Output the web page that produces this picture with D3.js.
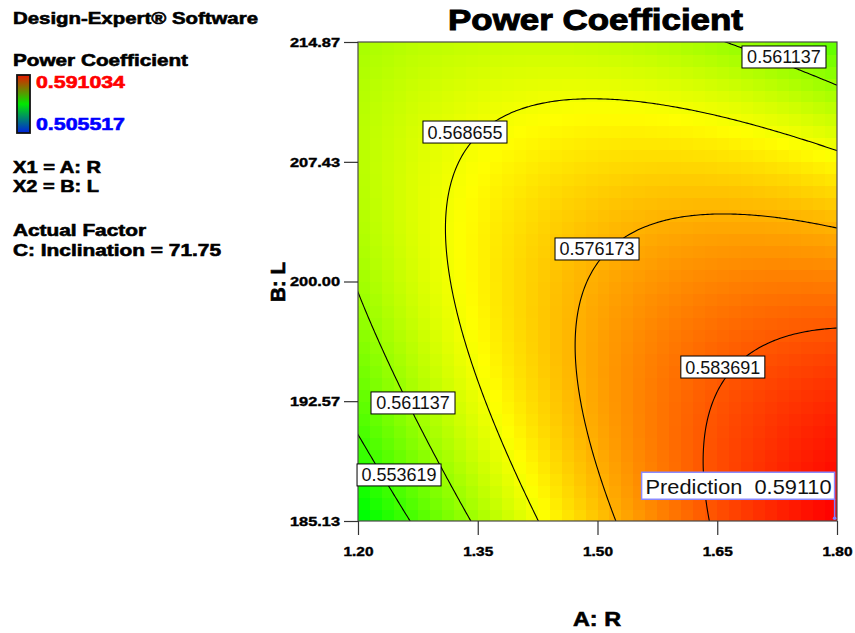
<!DOCTYPE html>
<html>
<head>
<meta charset="utf-8">
<script src="https://cdn.jsdelivr.net/npm/d3@7"></script>
<style>
  body { margin: 0; background: #fff; }
  text { font-family: "Liberation Sans", Arial, sans-serif; }
  .heavy { font-weight: bold; stroke: #000; stroke-width: 0.6px; }
</style>
</head>
<body>
<div id="chart"></div>
<script>
// factor ranges and tick labels
var rangeR = [1.20, 1.80];
var rangeL = [185.13, 214.87];
var ticksR = [1.20, 1.35, 1.50, 1.65, 1.80];
var ticksL = [185.13, 192.57, 200.00, 207.43, 214.87];

// response surface (coded units), terms: 1, A, B, AB, A^2, B^2
var modelTerms = ["1", "A", "B", "AB", "A2", "B2"];
var modelCoefs = [0.5766, 0.0095, -0.0050, -0.0128, -0.0056, -0.0071];

// colour legend range and contour levels
var colorRange = [0.505517, 0.591034];
var contourLevels = [0.553619, 0.561137, 0.568655, 0.576173, 0.583691];

// contour label anchors (in factor units)
var labelLevel = [0.553619, 0.561137, 0.561137, 0.568655, 0.576173, 0.583691];
var labelR = [1.2514, 1.2689, 1.7336, 1.334, 1.4994, 1.657];
var labelL = [187.99, 192.46, 213.94, 209.28, 202.02, 194.69];

// flagged prediction point
var predR = 1.797, predL = 185.3, predValue = 0.59110;

var W = 855, H = 633;
var svg = d3.select("#chart").append("svg").attr("width", W).attr("height", H);

var x = d3.scaleLinear().domain(rangeR).range([358, 837]);
var y = d3.scaleLinear().domain(rangeL).range([521, 42]);

var midR = (rangeR[0] + rangeR[1]) / 2, halfR = (rangeR[1] - rangeR[0]) / 2;
var midL = (rangeL[0] + rangeL[1]) / 2, halfL = (rangeL[1] - rangeL[0]) / 2;

function predict(a, b) {
  var t = [1, a, b, a * b, a * a, b * b];
  return d3.sum(t, function (v, i) { return v * modelCoefs[i]; });
}

var span = colorRange[1] - colorRange[0];
var color = d3.scaleLinear()
  .domain([0, 0.25, 0.5, 0.75, 1].map(function (t) { return colorRange[0] + t * span; }))
  .range(["#0000ff", "#00ffff", "#00ff00", "#ffff00", "#ff0000"])
  .clamp(true);

svg.append("defs").append("clipPath").attr("id", "plotClip")
  .append("rect")
  .attr("x", x(rangeR[0])).attr("y", y(rangeL[1]))
  .attr("width", x(rangeR[1]) - x(rangeR[0]))
  .attr("height", y(rangeL[0]) - y(rangeL[1]));

// heat map cells
var nCells = 40;
var cells = [];
for (var j = 0; j < nCells; j++) {
  for (var i = 0; i < nCells; i++) {
    var a0 = -1 + i * 2 / nCells, b0 = -1 + j * 2 / nCells;
    cells.push({
      a0: a0, a1: a0 + 2 / nCells, b0: b0, b1: b0 + 2 / nCells,
      v: predict(a0 + 1 / nCells, b0 + 1 / nCells)
    });
  }
}
var plot = svg.append("g").attr("clip-path", "url(#plotClip)");
plot.selectAll("rect.cell")
  .data(cells)
  .enter()
  .append("rect")
    .attr("class", "cell")
    .attr("x", function (d) { return x(midR + halfR * d.a0); })
    .attr("y", function (d) { return y(midL + halfL * d.b1); })
    .attr("width", function (d) { return x(midR + halfR * d.a1) - x(midR + halfR * d.a0) + 0.6; })
    .attr("height", function (d) { return y(midL + halfL * d.b0) - y(midL + halfL * d.b1) + 0.6; })
    .attr("fill", function (d) { return color(d.v); })
    .attr("shape-rendering", "crispEdges");

// contour lines from a slightly padded grid
var n = 220, lo = -1.06, step = 2.12 / (n - 1);
var grid = new Array(n * n);
for (var jj = 0; jj < n; jj++) {
  for (var ii = 0; ii < n; ii++) {
    grid[ii + jj * n] = predict(lo + ii * step, lo + jj * step);
  }
}
var contours = d3.contours().size([n, n]).thresholds(contourLevels)(grid);
var proj = d3.geoTransform({
  point: function (gx, gy) {
    var a = lo + (gx - 0.5) * step, b = lo + (gy - 0.5) * step;
    this.stream.point(x(midR + halfR * a), y(midL + halfL * b));
  }
});
plot.selectAll("path.contour")
  .data(contours)
  .enter()
  .append("path")
    .attr("class", "contour")
    .attr("d", d3.geoPath(proj))
    .attr("fill", "none")
    .attr("stroke", "#000")
    .attr("stroke-width", 1.1);

// plot frame
svg.append("rect")
  .attr("x", x(rangeR[0])).attr("y", y(rangeL[1]))
  .attr("width", x(rangeR[1]) - x(rangeR[0]))
  .attr("height", y(rangeL[0]) - y(rangeL[1]))
  .attr("fill", "none").attr("stroke", "#4a4a4a").attr("stroke-width", 1.2);

// contour labels
var labels = svg.selectAll("g.clabel")
  .data(labelLevel)
  .enter()
  .append("g")
    .attr("class", "clabel")
    .attr("transform", function (d, i) {
      return "translate(" + x(labelR[i]) + "," + y(labelL[i]) + ")";
    });
labels.append("rect")
  .attr("x", -42).attr("y", -11).attr("width", 84).attr("height", 22)
  .attr("fill", "#fff").attr("stroke", "#000").attr("stroke-width", 1);
labels.append("text")
  .attr("text-anchor", "middle").attr("y", 6.5)
  .style("font-size", "18px").attr("fill", "#111")
  .text(function (d) { return d3.format(".6f")(d); });

// prediction flag
var px = x(predR), py = y(predL);
svg.append("line")
  .attr("x1", px).attr("x2", px).attr("y1", py - 19).attr("y2", py)
  .attr("stroke", "#8080ff").attr("stroke-width", 1.5);
svg.append("circle").attr("cx", px).attr("cy", py).attr("r", 1.8).attr("fill", "#8080ff");
svg.append("rect")
  .attr("x", px - 193).attr("y", py - 46).attr("width", 193).attr("height", 27)
  .attr("fill", "#fff").attr("stroke", "#8a8aff").attr("stroke-width", 1.5);
svg.append("text")
  .attr("x", px - 189).attr("y", py - 24)
  .attr("textLength", 186).attr("lengthAdjust", "spacingAndGlyphs")
  .style("font-size", "21px").style("white-space", "pre").attr("fill", "#111")
  .text("Prediction  " + d3.format(".5f")(predValue));

// axes
var yAxis = svg.append("g")
  .attr("transform", "translate(" + x(rangeR[0]) + ",0)")
  .call(d3.axisLeft(y).tickValues(ticksL).tickFormat(d3.format(".2f")).tickSize(14).tickPadding(4));
var xAxis = svg.append("g")
  .attr("transform", "translate(0," + y(rangeL[0]) + ")")
  .call(d3.axisBottom(x).tickValues(ticksR).tickFormat(d3.format(".2f")).tickSize(14).tickPadding(12));
[xAxis, yAxis].forEach(function (ax) {
  ax.select(".domain").remove();
  ax.selectAll(".tick line").attr("stroke", "#333").attr("stroke-width", 1.2);
  ax.selectAll(".tick text")
    .attr("class", "heavy").style("stroke-width", "0.4px")
    .style("font-size", "13px").attr("fill", "#000")
    .attr("lengthAdjust", "spacingAndGlyphs");
});
yAxis.selectAll(".tick text").attr("textLength", 50);
xAxis.selectAll(".tick text").attr("textLength", 30);

// titles
function heavyText(str, xp, yp, size, width, fill) {
  return svg.append("text")
    .attr("class", "heavy")
    .attr("x", xp).attr("y", yp)
    .attr("textLength", width).attr("lengthAdjust", "spacingAndGlyphs")
    .style("font-size", size + "px")
    .attr("fill", fill || "#000")
    .style("stroke", fill || "#000")
    .text(str);
}
heavyText("Power Coefficient", 448, 30, 30, 295).style("stroke-width", "1px");
heavyText("A: R", 573, 626, 20, 48);
heavyText("B: L", 0, 0, 20, 40)
  .attr("transform", "translate(285,302) rotate(-90)");

// side legend
heavyText("Design-Expert\u00ae Software", 13, 24, 16.5, 245);
heavyText("Power Coefficient", 13, 66, 16.5, 175);
heavyText(d3.format(".6f")(colorRange[1]), 36, 88, 16.5, 89, "#ff0000");
heavyText(d3.format(".6f")(colorRange[0]), 36, 130, 16.5, 89, "#0000ff");
heavyText("X1 = A: R", 13, 173, 16.5, 88);
heavyText("X2 = B: L", 13, 192, 16.5, 86);
heavyText("Actual Factor", 13, 236, 16.5, 133);
heavyText("C: Inclination = 71.75", 13, 256, 16.5, 208);

var grad = svg.select("defs").append("linearGradient")
  .attr("id", "legendGrad").attr("x1", 0).attr("y1", 0).attr("x2", 0).attr("y2", 1);
grad.selectAll("stop")
  .data([["0%", "#e81800"], ["50%", "#00e800"], ["100%", "#0020e0"]])
  .enter().append("stop")
    .attr("offset", function (d) { return d[0]; })
    .attr("stop-color", function (d) { return d[1]; });
svg.append("rect")
  .attr("x", 17).attr("y", 75).attr("width", 13).attr("height", 58)
  .attr("fill", "url(#legendGrad)").attr("stroke", "#111").attr("stroke-width", 1.8);
</script>
</body>
</html>
